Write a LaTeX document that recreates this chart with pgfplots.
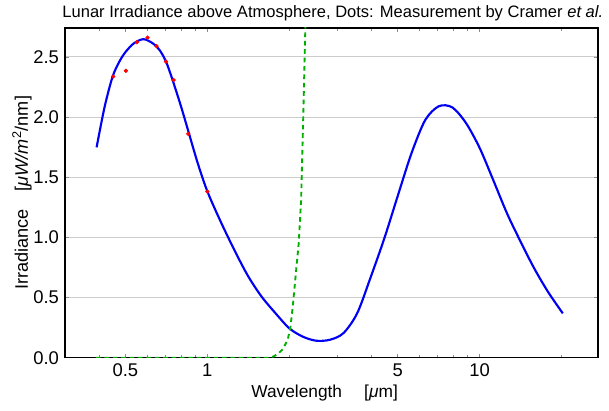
\documentclass[border=0pt]{standalone}
\usepackage{fontspec}
\setmainfont{Liberation Sans}
\usepackage{pgfplots}
\pgfplotsset{compat=1.18}
\definecolor{curveblue}{RGB}{0,0,245}
\definecolor{dashgreen}{RGB}{0,175,0}
\begin{document}
\fontsize{13}{15.6}\selectfont
\begin{tikzpicture}
\begin{semilogxaxis}[
  scale only axis, width=400pt, height=247.5pt,
  xmin=0.3, xmax=27.2, ymin=0, ymax=2.74,
  xtick={0.5,1,5,10}, xticklabels={0.5,1,5,10},
  minor xtick={0.4,0.6,0.7,0.8,0.9,2,3,4,6,7,8,9,20},
  ytick={0,0.5,1,1.5,2,2.5},
  yticklabel style={font=\fontsize{13.8}{16}\selectfont, /pgf/number format/fixed,/pgf/number format/fixed zerofill,/pgf/number format/precision=1},
  xticklabel style={font=\fontsize{13.8}{16}\selectfont},
  /pgf/number format/assume math mode=true,
  ymajorgrids, major grid style={black!20, line width=0.8pt},
  tick align=inside,
  major tick length=3pt, minor tick length=2pt,
  every tick/.style={black!45, line width=0.5pt},
  axis line style={black, line width=0.9pt},
  xlabel={Wavelength\quad\ [\textit{μ}m]},
  ylabel={Irradiance\quad[\textit{μW/m}\textsuperscript{2}/nm]},
  xlabel style={at={(axis description cs:0.487,-0.106)}, anchor=center},
  ylabel style={at={(axis description cs:-0.0807,0.5)}, anchor=center, font=\fontsize{13.6}{16}\selectfont},
  every axis title shift=0pt,
  title={Lunar Irradiance above Atmosphere, Dots: Measurement by Cramer \textit{et al.}},
  title style={at={(axis description cs:0.49,1.046)}, anchor=center, xshift=5pt, yshift=0pt, font=\fontsize{12.4}{15}\selectfont},
  clip=true,
]
\addplot[curveblue, line width=1.6pt, smooth] coordinates {
(0.392,1.748) (0.42,2.09) (0.449,2.337) (0.475,2.46) (0.502,2.544)
(0.539,2.615) (0.583,2.647) (0.629,2.614) (0.667,2.558) (0.705,2.461)
(0.745,2.309) (0.800,2.09) (0.847,1.90) (0.921,1.62) (1.0,1.383)
(1.12,1.13) (1.26,0.89) (1.41,0.68) (1.58,0.51) (1.78,0.37)
(2.0,0.245) (2.24,0.176) (2.51,0.142) (2.82,0.150) (3.16,0.205)
(3.55,0.37) (3.98,0.67) (4.47,0.995) (5.01,1.35) (5.62,1.70)
(6.31,1.975) (7.08,2.09) (7.94,2.08) (8.91,1.95) (10.0,1.743)
(11.2,1.48) (12.6,1.20) (14.1,0.97) (15.8,0.75) (17.8,0.55) (20.2,0.369)
};
\addplot[dashgreen, line width=1.4pt, dash pattern=on 3.5pt off 2.8pt] coordinates {
(0.39,0) (1.70,0) (1.764,0.015) (1.83,0.04) (1.89,0.07) (1.974,0.150)
(2.02,0.26) (2.06,0.43) (2.12,0.734) (2.165,0.95) (2.21,1.314)
(2.25,2.005) (2.29,2.74) (2.32,3.3)
};
\addplot[only marks, mark=*, mark size=1.4pt, mark options={fill=red, draw=red}] coordinates {
(0.451,2.337) (0.502,2.384) (0.551,2.622) (0.603,2.660) (0.651,2.589)
(0.705,2.461) (0.752,2.307) (0.851,1.861) (1.0,1.381)
};
\end{semilogxaxis}
\pgfresetboundingbox
\path ([xshift=-48.75pt,yshift=-39.75pt]current axis.south west) rectangle ([xshift=8.25pt,yshift=21pt]current axis.north east);
\end{tikzpicture}
\end{document}
